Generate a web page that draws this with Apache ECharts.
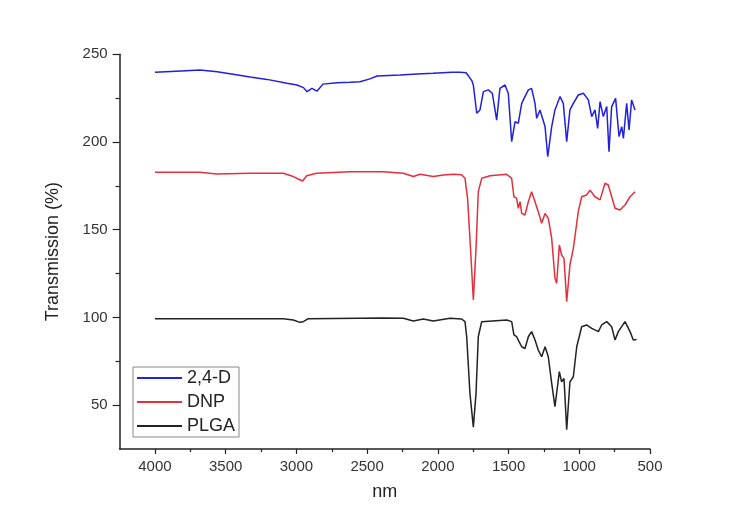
<!DOCTYPE html>
<html>
<head>
<meta charset="utf-8">
<script src="https://cdn.jsdelivr.net/npm/echarts@6/dist/echarts.min.js"></script>
<style>html,body{margin:0;padding:0;background:#fff}#c{width:739px;height:518px}</style>
</head>
<body>
<div id="c"></div>
<script>
const seriesNames = ['2,4-D', 'DNP', 'PLGA'];
const xTicks = [4000, 3500, 3000, 2500, 2000, 1500, 1000, 500];
const xMinorTicks = [3750, 3250, 2750, 2250, 1750, 1250, 750];
const yTicks = [50, 100, 150, 200, 250];
const yMinorTicks = [75, 125, 175, 225];

const d24X = [4000,3850,3682,3560,3448,3328,3208,3067,2996,2950,2925,2890,2855,2812,2713,2621,2550,2480,2430,2268,2147,2034,1900,1843,1800,1787,1760,
  1749,1725,1702,1678,1643,1615,1584,1561,1525,1502,1478,1454,1431,1407,1384,1360,1337,1313,1301,1278,1242,1223,1195,1172,1136,1113,1089,1066,1042,1007,971,936,912,889,870,853,830,806,790,771,743,719,700,688,665,648,630,606];
const d24Y = [239.7,240.3,241,240,238.6,237,235.7,233.5,232.5,231,228.7,230.6,229,233,233.8,234,234.4,236,237.6,238.2,238.8,239.2,239.8,239.7,239.5,238.8,235,
  232.5,216.4,218.3,228.7,229.7,227.8,212.5,230.6,232.5,227.8,200.2,211.6,210.7,222,225.9,229.7,230.6,222,213.5,218.3,208.8,191.6,208.8,218.3,225.9,222,200.2,218.3,222,226.8,227.8,224,214.5,218.3,207.8,223,214.5,220.2,194.5,220.2,224.9,203.1,208.8,202.1,222,206.9,224,218.3];

const dnpX = [4000,3682,3564,3328,3093,3022,2987,2956,2928,2857,2621,2386,2244,2173,2126,2032,1961,1891,1832,1808,1790,1773,1749,1730,1714,1690,1631,1513,1478,1462,1443,1431,1419,1407,1384,1360,1337,1313,1290,1266,1242,1219,1195,1172,1160,1141,1125,1108,1089,1066,1042,1007,983,948,924,889,853,818,795,771,747,712,677,641,606];
const dnpY = [182.7,182.7,181.8,182.2,182.2,180.3,178.9,177.8,180.8,182.2,183.1,183.1,182.2,180.3,181.6,180.3,181.2,181.6,181.3,179.3,168,145,110,139.4,171.7,179.3,180.8,181.6,179.3,168.8,167.9,162.2,166,159.3,158.4,166,171.7,166,160.3,153.7,159.3,156.5,145.1,122.3,119.5,141.3,135.6,133.7,109,129.9,139.4,160.3,168.8,169.8,172.6,168.8,167,176.5,175.5,168.8,162.2,161.2,164.1,168.8,171.7];

const plgaX = [4000,3564,3093,3022,2975,2951,2916,2386,2244,2173,2103,2032,1914,1832,1808,1796,1773,1749,1730,1714,1690,1513,1478,1462,1443,1426,1407,1384,1360,1337,1313,1290,1266,1242,1219,1195,1172,1160,1141,1125,1108,1089,1066,1042,1018,983,948,912,865,842,806,771,747,724,677,641,618,594];
const plgaY = [99.2,99.3,99.3,98.5,97.2,97.6,99.3,99.7,99.5,98,99.1,98,99.5,99.1,97.6,89,56.7,37.5,56.7,89,97.6,98.5,97.6,90,89,86.2,83.3,82.3,89,91.9,87.1,81.4,77.6,83.3,77.6,62.4,49.1,48.2,69.1,63.3,65.2,36,63.3,66.2,83.3,94.7,95.7,93.8,91.9,95.7,97.6,94.7,87.1,91.9,97.6,91.9,87.1,87.5];

const zip = (xs, ys) => xs.map((x, i) => [x, ys[i]]);
const colors = ['#2020dd', '#e3303c', '#222222'];
const FONT = 'Liberation Sans, Arial, sans-serif';
const plain = v => String(v);

const chart = echarts.init(document.getElementById('c'));
const baseX = {
  type: 'value', min: 500, max: 4250, inverse: true, position: 'bottom',
  splitLine: { show: false }
};
const baseY = {
  type: 'value', min: 25, max: 250, position: 'left',
  splitLine: { show: false }
};
chart.setOption({
  backgroundColor: '#ffffff',
  animation: false,
  grid: { left: 119.6, right: 89, top: 54.3, bottom: 69 },
  legend: {
    data: seriesNames,
    orient: 'vertical',
    left: 133, top: 367,
    backgroundColor: '#fff',
    borderColor: '#888', borderWidth: 1,
    padding: [1, 4, 1, 4],
    itemGap: 4,
    itemWidth: 45, itemHeight: 2,
    icon: 'rect',
    textStyle: { fontSize: 18, lineHeight: 20, color: '#222', fontFamily: FONT }
  },
  xAxis: [
    Object.assign({}, baseX, {
      name: 'nm', nameLocation: 'middle', nameGap: 34,
      nameTextStyle: { fontSize: 18, color: '#222', fontFamily: FONT },
      axisLine: { show: true, lineStyle: { color: '#222', width: 1.5 } },
      axisTick: { show: true, length: 5, lineStyle: { color: '#222', width: 1.2 }, customValues: xTicks },
      axisLabel: { customValues: xTicks, formatter: plain, fontSize: 15, color: '#333', fontFamily: FONT, margin: 10 }
    }),
    Object.assign({}, baseX, {
      axisLine: { show: false },
      axisTick: { show: true, length: 3, lineStyle: { color: '#222', width: 1.2 }, customValues: xMinorTicks },
      axisLabel: { show: false }
    })
  ],
  yAxis: [
    Object.assign({}, baseY, {
      name: 'Transmission (%)', nameLocation: 'middle', nameGap: 58, nameRotate: 90,
      nameTextStyle: { fontSize: 18, color: '#222', fontFamily: FONT },
      axisLine: { show: true, lineStyle: { color: '#222', width: 1.5 } },
      axisTick: { show: true, length: 7, lineStyle: { color: '#222', width: 1.2 }, customValues: yTicks },
      axisLabel: { customValues: yTicks, formatter: plain, fontSize: 15, color: '#333', fontFamily: FONT, margin: 12 }
    }),
    Object.assign({}, baseY, {
      axisLine: { show: false },
      axisTick: { show: true, length: 4, lineStyle: { color: '#222', width: 1.2 }, customValues: yMinorTicks },
      axisLabel: { show: false }
    })
  ],
  series: [
    { name: seriesNames[0], type: 'line', data: zip(d24X, d24Y), color: colors[0], showSymbol: false, symbol: 'none', lineStyle: { width: 1.5 } },
    { name: seriesNames[1], type: 'line', data: zip(dnpX, dnpY), color: colors[1], showSymbol: false, symbol: 'none', lineStyle: { width: 1.5 } },
    { name: seriesNames[2], type: 'line', data: zip(plgaX, plgaY), color: colors[2], showSymbol: false, symbol: 'none', lineStyle: { width: 1.5 } }
  ]
});
</script>
</body>
</html>
